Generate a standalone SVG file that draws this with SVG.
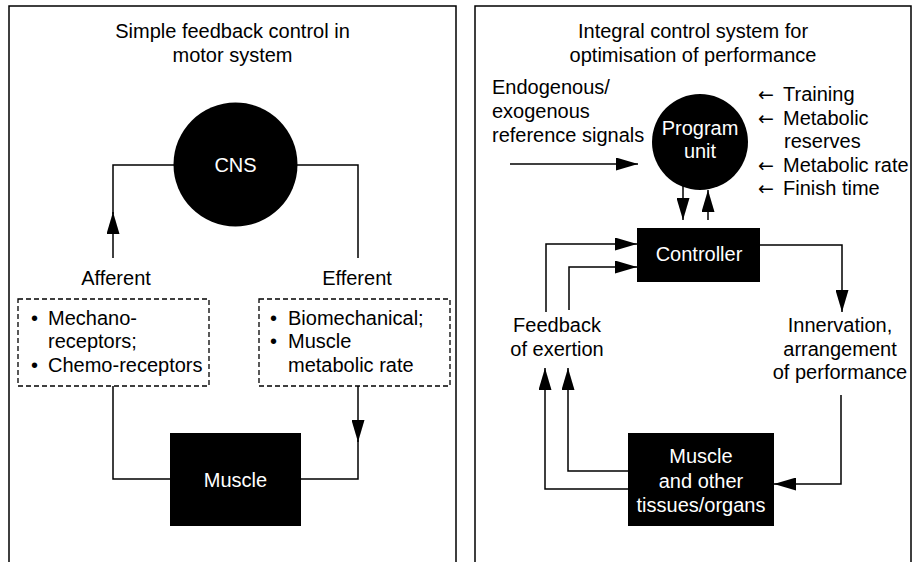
<svg xmlns="http://www.w3.org/2000/svg" width="913" height="562" viewBox="0 0 913 562">
<style>
text{font-family:"Liberation Sans",Arial,sans-serif;font-size:20px;fill:#000}
.c{text-anchor:middle}
.w{fill:#fff}
.ar{font-family:"DejaVu Sans",sans-serif;font-size:19px}
.ln{fill:none;stroke:#000;stroke-width:1.5}
.dash{fill:none;stroke:#000;stroke-width:1.3;stroke-dasharray:5 3}
.blk{fill:#000}
</style>
<defs>
<marker id="ah" markerUnits="userSpaceOnUse" markerWidth="22" markerHeight="13" refX="22" refY="6.5" orient="auto" viewBox="0 0 22 13">
<path d="M0,0 L22,6.5 L0,13 z" fill="#000"/>
</marker>
</defs>
<rect width="913" height="562" fill="#fff"/>
<g id="panels">
<path class="ln" d="M9,562 V6 H456 V562"/>
<path class="ln" d="M475,562 V6 H911 V562"/>
</g>
<g id="left-title">
<text class="c" x="232.5" y="38">Simple feedback control in</text>
<text class="c" x="232.5" y="62">motor system</text>
</g>
<g id="connectors">
<path class="ln" d="M113,258 V212" marker-end="url(#ah)"/>
<path class="ln" d="M113,214 V165 H174"/>
<path class="ln" d="M297,165 H358 V258"/>
<path class="ln" d="M113,386 V479 H170"/>
<path class="ln" d="M358,386 V442" marker-end="url(#ah)"/>
<path class="ln" d="M358,440 V479 H301"/>
<path class="ln" d="M510,164 H638" marker-end="url(#ah)"/>
<path class="ln" d="M683,186 V220" marker-end="url(#ah)"/>
<path class="ln" d="M708,220 V190" marker-end="url(#ah)"/>
<path class="ln" d="M546,312 V244 H637" marker-end="url(#ah)"/>
<path class="ln" d="M569,310 V267 H637" marker-end="url(#ah)"/>
<path class="ln" d="M760,245 H842 V312" marker-end="url(#ah)"/>
<path class="ln" d="M841,395 V484 H774" marker-end="url(#ah)"/>
<path class="ln" d="M628,489 H545 V368" marker-end="url(#ah)"/>
<path class="ln" d="M628,471 H568 V368" marker-end="url(#ah)"/>
</g>
<g id="cns">
<circle class="blk" cx="235.5" cy="164.5" r="62"/>
<text class="c w" x="235.5" y="172">CNS</text>
</g>
<g id="afferent-label"><text class="c" x="116" y="285">Afferent</text></g>
<g id="efferent-label"><text class="c" x="357" y="285">Efferent</text></g>
<g id="afferent-box">
<rect class="dash" x="18" y="299" width="191" height="87"/>
<text x="31" y="325">•</text>
<text x="48" y="325">Mechano-</text>
<text x="48" y="348">receptors;</text>
<text x="31" y="372">•</text>
<text x="48" y="372">Chemo-receptors</text>
</g>
<g id="efferent-box">
<rect class="dash" x="259" y="299" width="191" height="87"/>
<text x="270" y="325">•</text>
<text x="288" y="325">Biomechanical;</text>
<text x="270" y="348">•</text>
<text x="288" y="348">Muscle</text>
<text x="288" y="372">metabolic rate</text>
</g>
<g id="muscle-left">
<rect class="blk" x="170" y="433" width="131" height="93"/>
<text class="c w" x="235.5" y="487">Muscle</text>
</g>
<g id="right-title">
<text class="c" x="693" y="38">Integral control system for</text>
<text class="c" x="693" y="62">optimisation of performance</text>
</g>
<g id="reference-signals">
<text x="492" y="94">Endogenous/</text>
<text x="492" y="118">exogenous</text>
<text x="492" y="142">reference signals</text>
</g>
<g id="program-unit">
<circle class="blk" cx="700" cy="142" r="48"/>
<text class="c w" x="700" y="135">Program</text>
<text class="c w" x="700" y="158">unit</text>
</g>
<g id="inputs-list">
<text x="758" y="101"><tspan class="ar">←</tspan><tspan x="783">Training</tspan></text>
<text x="758" y="125"><tspan class="ar">←</tspan><tspan x="783">Metabolic</tspan></text>
<text x="784" y="148">reserves</text>
<text x="758" y="172"><tspan class="ar">←</tspan><tspan x="783">Metabolic rate</tspan></text>
<text x="758" y="195"><tspan class="ar">←</tspan><tspan x="783">Finish time</tspan></text>
</g>
<g id="controller">
<rect class="blk" x="637" y="228" width="123" height="54"/>
<text class="c w" x="699" y="261">Controller</text>
</g>
<g id="feedback-label">
<text class="c" x="557" y="332">Feedback</text>
<text class="c" x="557" y="356">of exertion</text>
</g>
<g id="innervation-label">
<text class="c" x="840" y="332">Innervation,</text>
<text class="c" x="840" y="356">arrangement</text>
<text class="c" x="840" y="379">of performance</text>
</g>
<g id="muscle-tissues">
<rect class="blk" x="628" y="433" width="146" height="93"/>
<text class="c w" x="701" y="463">Muscle</text>
<text class="c w" x="701" y="488">and other</text>
<text class="c w" x="701" y="512">tissues/organs</text>
</g>
</svg>
